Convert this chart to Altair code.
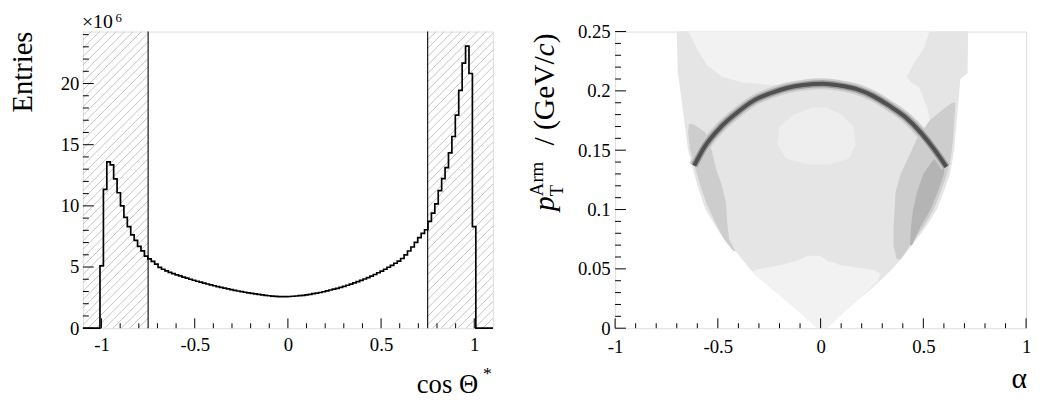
import altair as alt
import numpy as np
import pandas as pd

FONT = "Liberation Serif"

# ---------------- left panel: cos(theta*) histogram, 120 bins on [-1.1, 1.1], entries in 10^6 ----------------
hist_range = [-1.1, 1.1]
hist_counts = [
    0, 0, 0, 0, 0,
    5.10, 11.35, 13.60, 13.35, 12.20, 11.07, 10.00, 9.06, 8.30, 7.63,
    7.18, 6.69, 6.32, 5.89, 5.67, 5.46, 5.24, 4.97,
    4.82, 4.69, 4.57, 4.46, 4.36, 4.27, 4.18, 4.09, 4.00, 3.92,
    3.84, 3.76, 3.68, 3.61, 3.54, 3.47, 3.40, 3.33, 3.27, 3.21,
    3.15, 3.09, 3.04, 2.99, 2.94, 2.89, 2.84, 2.80, 2.76, 2.72,
    2.68, 2.65, 2.62, 2.60, 2.58, 2.58, 2.58, 2.59, 2.61, 2.63,
    2.66, 2.69, 2.73, 2.77, 2.82, 2.87, 2.92, 2.98, 3.05, 3.12,
    3.19, 3.26, 3.34, 3.42, 3.51, 3.60, 3.70, 3.80, 3.91, 4.02,
    4.14, 4.26, 4.39, 4.53, 4.67, 4.82, 4.98, 5.14, 5.31, 5.48,
    5.70, 6.00, 6.31, 6.64, 7.02, 7.40, 7.75,
    8.05, 8.73, 9.41, 10.16, 11.24, 12.23, 13.12, 14.33, 15.67, 17.42,
    19.44, 21.67, 23.06, 20.82, 8.30,
    0, 0, 0, 0, 0,
]
assert len(hist_counts) == 120
y_max_left = 24.25
cut_values = [-0.75, 0.75]
left_x_major = [-1, -0.5, 0, 0.5, 1]
left_x_minor = [-0.9, -0.8, -0.7, -0.6, -0.4, -0.3, -0.2, -0.1, 0.1, 0.2, 0.3, 0.4, 0.6, 0.7, 0.8, 0.9]
left_y_major = [0, 5, 10, 15, 20]
left_y_minor = [1, 2, 3, 4, 6, 7, 8, 9, 11, 12, 13, 14, 16, 17, 18, 19, 21, 22, 23, 24]

# ---------------- right panel: Armenteros-Podolanski (alpha, pT) grey-level regions ----------------
env_pt =    [0.000, 0.010, 0.020, 0.030, 0.040, 0.050, 0.060, 0.070, 0.080, 0.090, 0.100, 0.115, 0.130, 0.150, 0.170, 0.190, 0.210, 0.215, 0.250]
env_left =  [-0.015, -0.08, -0.145, -0.215, -0.285, -0.345, -0.39, -0.44, -0.49, -0.525, -0.56, -0.59, -0.615, -0.645, -0.66, -0.675, -0.69, -0.695, -0.70]
env_right = [0.030, 0.09, 0.155, 0.225, 0.29, 0.35, 0.40, 0.445, 0.49, 0.53, 0.565, 0.60, 0.63, 0.65, 0.66, 0.67, 0.68, 0.715, 0.718]

low_pt =    [0.000, 0.030, 0.040, 0.046, 0.049, 0.053, 0.057, 0.061]
low_left =  [-0.015, -0.215, -0.285, -0.33, -0.32, -0.20, -0.11, -0.06]
low_right = [0.030, 0.22, 0.28, 0.29, 0.26, 0.10, 0.03, 0.00]

top_pt =    [0.150, 0.165, 0.185, 0.203, 0.207, 0.212, 0.222, 0.235, 0.250]
top_left =  [0.00, 0.00, 0.00, -0.10, -0.38, -0.48, -0.555, -0.60, -0.645]
top_right = [0.55, 0.545, 0.52, 0.48, 0.44, 0.42, 0.45, 0.50, 0.53]

blob_pt =    [0.138, 0.143, 0.155, 0.170, 0.180, 0.186]
blob_left =  [-0.06, -0.17, -0.21, -0.20, -0.13, -0.04]
blob_right = [0.04, 0.14, 0.17, 0.16, 0.10, 0.03]

bandl_pt =    [0.065, 0.075, 0.090, 0.105, 0.120, 0.135, 0.150, 0.165, 0.172]
bandl_left =  [-0.425, -0.47, -0.515, -0.555, -0.585, -0.61, -0.635, -0.645, -0.64]
bandl_right = [-0.415, -0.445, -0.455, -0.46, -0.48, -0.51, -0.53, -0.56, -0.62]

bandr_pt =    [0.058, 0.070, 0.085, 0.100, 0.115, 0.130, 0.145, 0.160, 0.175, 0.185, 0.190]
bandr_left =  [0.37, 0.355, 0.355, 0.36, 0.365, 0.39, 0.43, 0.47, 0.53, 0.60, 0.64]
bandr_right = [0.39, 0.435, 0.50, 0.55, 0.585, 0.615, 0.635, 0.645, 0.65, 0.655, 0.655]

darkr_pt =    [0.070, 0.085, 0.100, 0.115, 0.130, 0.140, 0.147]
darkr_left =  [0.435, 0.44, 0.45, 0.47, 0.50, 0.54, 0.58]
darkr_right = [0.445, 0.485, 0.535, 0.57, 0.60, 0.605, 0.60]

arc_alpha = [-0.615, -0.564, -0.483, -0.404, -0.324, -0.244, -0.164, -0.084, 0.012, 0.092, 0.172, 0.252, 0.332, 0.412, 0.492, 0.556, 0.612]
arc_pt =    [0.137, 0.153, 0.170, 0.182, 0.192, 0.198, 0.2024, 0.2049, 0.2060, 0.2045, 0.2016, 0.196, 0.1877, 0.178, 0.164, 0.150, 0.136]
dome_base = 0.13

right_x_major = [-1, -0.5, 0, 0.5, 1]
right_x_minor = left_x_minor
right_y_major = [0, 0.05, 0.1, 0.15, 0.2, 0.25]
right_y_minor = [0.01, 0.02, 0.03, 0.04, 0.06, 0.07, 0.08, 0.09, 0.11, 0.12, 0.13, 0.14,
                 0.16, 0.17, 0.18, 0.19, 0.21, 0.22, 0.23, 0.24]

# ---------------- layout ----------------
WL, WR, H = 416, 417, 301
MINUS_FIX = "replace(datum.label, '\u2212', '-')"


def axis_x(values, pad):
    return alt.Axis(values=values, format="~g", labelExpr=MINUS_FIX, ticks=False, domain=False, grid=False,
                    labelFont=FONT, labelFontSize=19, labelPadding=pad, labelFlush=False, labelOverlap=False,
                    labelColor="black", title=None)


def axis_y(values, pad):
    return alt.Axis(values=values, format="~g", labelExpr=MINUS_FIX, ticks=False, domain=False, grid=False,
                    labelFont=FONT, labelFontSize=19, labelPadding=pad, labelOverlap=False,
                    labelColor="black", title=None)


AX_L = dict(x=axis_x(left_x_major, 8), y=axis_y(left_y_major, 4))
AX_R = dict(x=axis_x(right_x_major, 10), y=axis_y(right_y_major, 5))


def text(t, x, y, size, align="left", angle=0, style="normal", baseline="alphabetic"):
    return alt.Chart(pd.DataFrame({"t": [t]})).mark_text(
        font=FONT, fontSize=size, align=align, baseline=baseline, angle=angle, fontStyle=style, color="black"
    ).encode(text="t:N", x=alt.value(x), y=alt.value(y))


def ticks_x(vals, length, xs, ax):
    return alt.Chart(pd.DataFrame({"v": vals})).mark_rule(color="black", strokeWidth=1).encode(
        x=alt.X("v:Q", scale=xs, axis=ax["x"]), y=alt.value(H), y2=alt.value(H - length))


def ticks_y(vals, length, ys, ax):
    return alt.Chart(pd.DataFrame({"v": vals})).mark_rule(color="black", strokeWidth=1).encode(
        y=alt.Y("v:Q", scale=ys, axis=ax["y"]), x=alt.value(0), x2=alt.value(length))


# ---------- left chart ----------
xs_l = alt.Scale(domain=hist_range, nice=False, zero=False)
ys_l = alt.Scale(domain=[0, y_max_left], nice=False, zero=False)

nb = len(hist_counts)
edges = np.linspace(hist_range[0], hist_range[1], nb + 1)
step_df = pd.DataFrame({"x": list(edges[:-1]) + [edges[-1]], "y": hist_counts + [0.0]})

# 45-degree hatching of the rejected regions (|cos| > 0.75)
k45 = (H / y_max_left) / (WL / (hist_range[1] - hist_range[0]))
dx = 8.5 * (hist_range[1] - hist_range[0]) / WL
hatch = []
for lo, hi in [(hist_range[0], cut_values[0]), (cut_values[1], hist_range[1])]:
    c = lo - k45 * y_max_left
    while c < hi:
        y0 = max(0.0, (lo - c) / k45)
        y1 = min(y_max_left, (hi - c) / k45)
        if y1 > y0:
            hatch.append({"x": c + k45 * y0, "y": y0, "x2": c + k45 * y1, "y2": y1})
        c += dx
hatch_df = pd.DataFrame(hatch)

hatch_layer = alt.Chart(hatch_df).mark_rule(color="#bcbcbc", strokeWidth=0.9).encode(
    x=alt.X("x:Q", scale=xs_l, axis=AX_L["x"]),
    y=alt.Y("y:Q", scale=ys_l, axis=AX_L["y"]),
    x2="x2:Q", y2="y2:Q")

hist_layer = alt.Chart(step_df).mark_line(interpolate="step-after", color="black", strokeWidth=1.7).encode(
    x=alt.X("x:Q", scale=xs_l, axis=AX_L["x"]), y=alt.Y("y:Q", scale=ys_l, axis=AX_L["y"]))

cut_layer = alt.Chart(pd.DataFrame({"c": cut_values})).mark_rule(color="black", strokeWidth=1.1).encode(
    x=alt.X("c:Q", scale=xs_l, axis=AX_L["x"]), y=alt.value(0), y2=alt.value(H))

left = alt.layer(
    hatch_layer, hist_layer, cut_layer,
    ticks_x(left_x_major, 10, xs_l, AX_L), ticks_x(left_x_minor, 5, xs_l, AX_L),
    ticks_y(left_y_major, 11, ys_l, AX_L), ticks_y(left_y_minor, 6, ys_l, AX_L),
    text("Entries", -52, 0, 29, align="right", angle=270),
    text("\u00d710", -1, -20, 20, baseline="top"),
    text("6", 33, -20, 13, baseline="top"),
    text("cos \u0398", 401, H + 66, 27, align="right"),
    text("*", 406, H + 52, 18),
).properties(width=WL, height=H)

# ---------- right chart ----------
xs_r = alt.Scale(domain=[-1, 1], nice=False, zero=False)
ys_r = alt.Scale(domain=[0, 0.25], nice=False, zero=False)


def hband(pt, lo, hi, color):
    df = pd.DataFrame({"pt": pt, "lo": lo, "hi": hi})
    return alt.Chart(df).mark_area(orient="horizontal", color=color, interpolate="linear").encode(
        y=alt.Y("pt:Q", scale=ys_r, axis=AX_R["y"]),
        x=alt.X("lo:Q", scale=xs_r, axis=AX_R["x"]),
        x2="hi:Q")


arc_df = pd.DataFrame({"a": arc_alpha, "pt": arc_pt, "base": [dome_base] * len(arc_alpha)})
dome = alt.Chart(arc_df).mark_area(color="#e5e5e5", interpolate="monotone").encode(
    x=alt.X("a:Q", scale=xs_r, axis=AX_R["x"]), y=alt.Y("base:Q", scale=ys_r, axis=AX_R["y"]), y2="pt:Q")


def arc_line(width, color):
    return alt.Chart(arc_df).mark_line(color=color, strokeWidth=width, interpolate="monotone", strokeCap="butt").encode(
        x=alt.X("a:Q", scale=xs_r, axis=AX_R["x"]), y=alt.Y("pt:Q", scale=ys_r, axis=AX_R["y"]))


right = alt.layer(
    hband(env_pt, env_left, env_right, "#e5e5e5"),
    hband(low_pt, low_left, low_right, "#f2f2f2"),
    hband(top_pt, top_left, top_right, "#f2f2f2"),
    dome,
    hband(blob_pt, blob_left, blob_right, "#eeeeee"),
    hband(bandl_pt, bandl_left, bandl_right, "#cdcdcd"),
    hband(bandr_pt, bandr_left, bandr_right, "#cdcdcd"),
    hband(darkr_pt, darkr_left, darkr_right, "#b4b4b4"),
    arc_line(11, "#cdcdcd"), arc_line(7, "#9a9a9a"), arc_line(4, "#505050"),
    ticks_x(right_x_major, 10, xs_r, AX_R), ticks_x(right_x_minor, 5, xs_r, AX_R),
    ticks_y(right_y_major, 11, ys_r, AX_R), ticks_y(right_y_minor, 6, ys_r, AX_R),
    text("p", -62, 182, 30, style="italic", angle=270),
    text("T", -53, 167, 19, angle=270),
    text("Arm", -73, 167, 19, angle=270),
    text(" / (GeV/", -62, 25, 30, align="right", angle=270),
    text("c", -62, 12, 30, align="right", angle=270, style="italic"),
    text(")", -62, 2, 30, align="right", angle=270),
    text("\u03b1", 418, H + 61, 30, align="right"),
).properties(width=WR, height=H)

chart = alt.hconcat(left, right, spacing=31).properties(
    padding={"left": 0, "top": 0, "right": 0, "bottom": 0}
).configure_view(stroke="black", strokeWidth=1.5).configure(background="white")

chart.save("out.html", embed_options={"renderer": "svg", "actions": False})
